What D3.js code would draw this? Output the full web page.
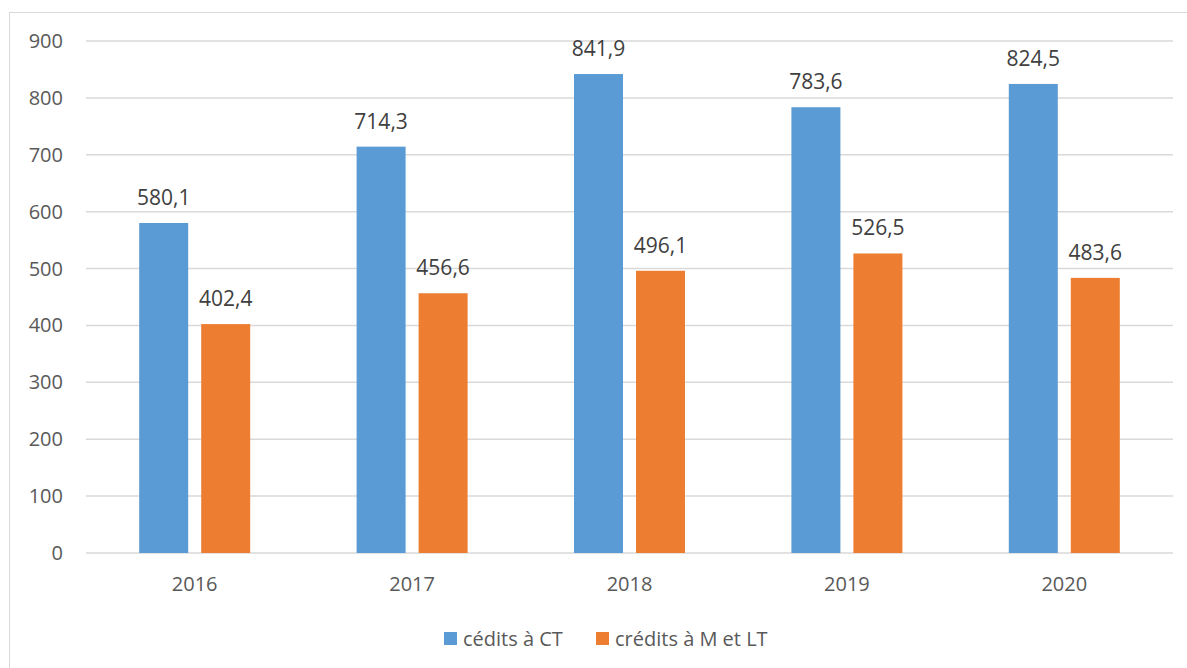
<!DOCTYPE html>
<html>
<head>
<meta charset="utf-8">
<script src="https://cdn.jsdelivr.net/npm/d3@7"></script>
<style>
  body { margin: 0; background: #fff; }
  text { font-family: "Open Sans", "Liberation Sans", sans-serif; }
</style>
</head>
<body>
<div id="chart"></div>
<script>
// chart data
var years = ["2016", "2017", "2018", "2019", "2020"];
var seriesNames = ["cédits à CT", "crédits à M et LT"];
var creditsCT = [580.1, 714.3, 841.9, 783.6, 824.5];
var creditsMLT = [402.4, 456.6, 496.1, 526.5, 483.6];
var yTicks = [0, 100, 200, 300, 400, 500, 600, 700, 800, 900];
var colors = ["#5b9bd5", "#ed7d31"];

var width = 1187, height = 668;
var margin = {left: 86, right: 14, top: 41, bottom: 115};

var svg = d3.select("#chart").append("svg")
  .attr("width", width)
  .attr("height", height);

// outer frame
svg.append("rect")
  .attr("x", 9.5).attr("y", 12.5)
  .attr("width", 1190).attr("height", 700)
  .attr("fill", "none")
  .attr("stroke", "#d9d9d9");

var x = d3.scaleBand()
  .domain(years)
  .range([margin.left, width - margin.right]);

var y = d3.scaleLinear()
  .domain([0, 900])
  .range([height - margin.bottom, margin.top]);

// gridlines
svg.append("g")
  .selectAll("line")
  .data(yTicks)
  .enter().append("line")
  .attr("x1", margin.left)
  .attr("x2", width - margin.right)
  .attr("y1", function(d) { return y(d); })
  .attr("y2", function(d) { return y(d); })
  .attr("stroke", "#d9d9d9")
  .attr("stroke-width", 1.5);

// y axis labels
svg.append("g")
  .selectAll("text")
  .data(yTicks)
  .enter().append("text")
  .attr("x", 63)
  .attr("y", function(d) { return y(d); })
  .attr("dy", "0.35em")
  .attr("text-anchor", "end")
  .attr("fill", "#595959")
  .style("font-size", "20px")
  .text(function(d) { return d; });

// x axis labels
svg.append("g")
  .selectAll("text")
  .data(years)
  .enter().append("text")
  .attr("x", function(d) { return x(d) + x.bandwidth() / 2; })
  .attr("y", 591)
  .attr("text-anchor", "middle")
  .attr("fill", "#595959")
  .style("font-size", "20px")
  .text(function(d) { return d; });

// bars
var barW = 49, gap = 13;
var series = [creditsCT, creditsMLT];

series.forEach(function(vals, s) {
  var offset = s === 0 ? -gap / 2 - barW : gap / 2;
  var g = svg.append("g");
  g.selectAll("rect")
    .data(vals)
    .enter().append("rect")
    .attr("x", function(d, i) { return x(years[i]) + x.bandwidth() / 2 + offset; })
    .attr("y", function(d) { return y(d); })
    .attr("width", barW)
    .attr("height", function(d) { return y(0) - y(d); })
    .attr("fill", colors[s]);

  g.selectAll("text")
    .data(vals)
    .enter().append("text")
    .attr("x", function(d, i) { return x(years[i]) + x.bandwidth() / 2 + offset + barW / 2; })
    .attr("y", function(d) { return y(d) - 18; })
    .attr("text-anchor", "middle")
    .attr("fill", "#404040")
    .style("font-size", "21px")
    .text(function(d) { return d3.format(".1f")(d).replace(".", ","); });
});

// legend
var legend = svg.append("g");
var legendX = [444, 596];
seriesNames.forEach(function(name, i) {
  legend.append("rect")
    .attr("x", legendX[i]).attr("y", 632)
    .attr("width", 13).attr("height", 13)
    .attr("fill", colors[i]);
  legend.append("text")
    .attr("x", legendX[i] + 19)
    .attr("y", 646)
    .attr("fill", "#595959")
    .style("font-size", "20px")
    .text(name);
});
</script>
</body>
</html>
